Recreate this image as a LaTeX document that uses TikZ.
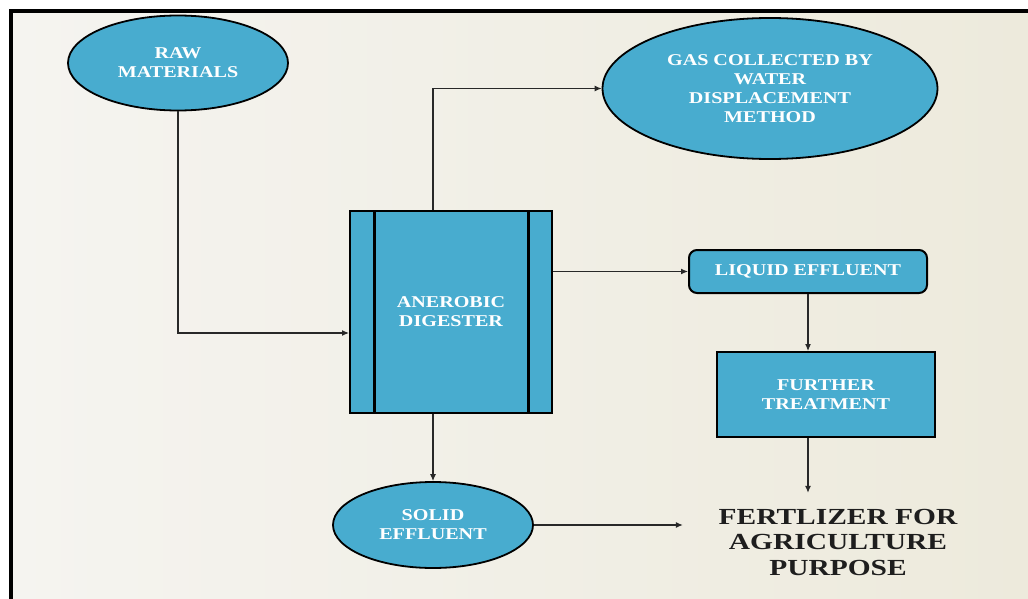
\documentclass[tikz,border=0pt]{standalone}
\usepackage{fontspec}
\newfontfamily\wf{Liberation Serif}[FakeStretch=1.22]
\newfontfamily\ff{Liberation Serif}[FakeStretch=1.28]
\usetikzlibrary{arrows.meta,shapes.geometric}
\definecolor{cyanfill}{RGB}{72,172,207}
\definecolor{bgL}{RGB}{245,244,240}
\definecolor{bgR}{RGB}{237,234,220}
\definecolor{linec}{RGB}{40,40,40}
\tikzset{
  lbl/.style={text=white, font=\wf\bfseries\fontsize{16.5}{19}\selectfont, align=center},
  blob/.style={ellipse, draw=black, line width=1.8pt, fill=cyanfill, inner sep=0pt, lbl},
  boxn/.style={rectangle, draw=black, line width=2pt, fill=cyanfill, inner sep=0pt, lbl},
  conn/.style={draw=linec, line width=1.1pt, -{Latex[length=7pt,width=6pt]}},
}
\begin{document}
\begin{tikzpicture}[x=1pt,y=-1pt]
\useasboundingbox (0,0) rectangle (1028,599);
\fill[white] (0,0) rectangle (1028,599);
\shade[left color=bgL, right color=bgR] (10,11) rectangle (1028,599);
\fill[black] (8.5,9.5) rectangle (1028,13.5);
\fill[black] (8.5,9.5) rectangle (12.5,599);

\node[blob, minimum width=220pt, minimum height=95pt] (raw) at (178,63) {RAW\\MATERIALS};
\node[blob, minimum width=335pt, minimum height=141pt] (gas) at (770,88.5) {GAS COLLECTED BY\\WATER\\DISPLACEMENT\\METHOD};
\node[boxn, minimum width=202pt, minimum height=202pt] (dig) at (451,312) {ANEROBIC\\DIGESTER};
\draw[line width=3pt] ([xshift=25pt]dig.north west) -- ([xshift=25pt]dig.south west);
\draw[line width=3pt] ([xshift=-25pt]dig.north east) -- ([xshift=-25pt]dig.south east);
\node[boxn, rounded corners=8pt, minimum width=238pt, minimum height=43pt] (liq) at (808,271.5) {LIQUID EFFLUENT};
\node[boxn, minimum width=218pt, minimum height=85pt] (ft) at (826,394.5) {FURTHER\\TREATMENT};
\node[blob, minimum width=200pt, minimum height=86pt] (se) at (433,525) {SOLID\\EFFLUENT};
\node[inner sep=0pt, minimum width=310pt, minimum height=98pt, align=center, text={rgb,255:red,30;green,30;blue,30},
  font=\ff\bfseries\fontsize{23}{25.5}\selectfont] (fert) at (838,542) {FERTLIZER FOR\\AGRICULTURE\\PURPOSE};

\draw[conn] (raw.south) |- ([yshift=-21pt]dig.west);
\draw[conn] (dig.north -| se.north) |- (gas.west);
\draw[conn] (dig.east |- liq.west) -- (liq.west);
\draw[conn] (liq.south) -- (liq.south |- ft.north);
\draw[conn] (ft.south -| liq.south) -- (liq.south |- fert.north);
\draw[conn] (dig.south -| se.north) -- (se.north);
\draw[conn] (se.east) -- (se.east -| fert.west);
\end{tikzpicture}
\end{document}
